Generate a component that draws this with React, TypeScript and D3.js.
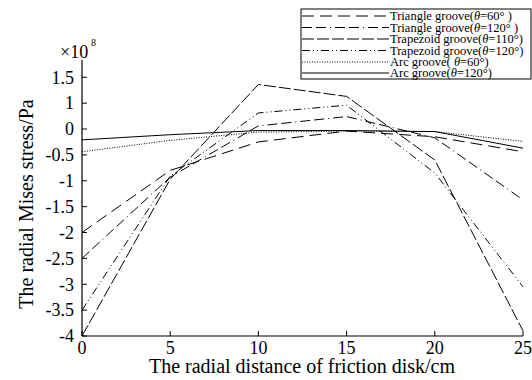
import React from 'react';
import * as d3 from 'd3';

// radial distance (cm)
const distance = [0, 5, 10, 15, 20, 25];

// stress values in axis position units (x1e8 Pa)
const triangle60 = [-2.0, -0.8, -0.25, -0.04, -0.15, -0.44];
const triangle120 = [-2.5, -0.93, 0.06, 0.24, -0.17, -1.37];
const trapezoid110 = [-4.0, -0.97, 0.86, 0.63, -0.6, -3.9];
const trapezoid120 = [-3.5, -0.91, 0.31, 0.46, -0.85, -3.05];
const arc60 = [-0.44, -0.22, -0.06, -0.04, -0.05, -0.24];
const arc120 = [-0.21, -0.11, -0.03, -0.03, -0.05, -0.37];

const xTicks = [0, 5, 10, 15, 20, 25];
const yTickValues = [1, 0.5, 0, -0.5, -1, -1.5, -2, -2.5, -3, -3.5, -4];
const yTickLabels = ['1.5', '1', '0', '-0.5', '-1', '-1.5', '-2', '-2.5', '-3', '-3.5', '-4'];

const seriesNames = [
  'Triangle groove(',
  'Triangle groove(',
  'Trapezoid groove(',
  'Trapezoid groove(',
  'Arc groove( ',
  'Arc groove(',
];
const seriesAngles = ['=60° )', '=120° )', '=110°)', '=120°)', '=60°)', '=120°)'];
const seriesValues = [triangle60, triangle120, trapezoid110, trapezoid120, arc60, arc120];
const seriesDash = ['12,6', '10,4,10,4,1,4', '12,3', '8,3,1,3,1,3', '1,1.5', null];

const W = 532;
const H = 380;
const font = 'Liberation Serif, Times New Roman, serif';

export default function App() {
  const x = d3.scaleLinear().domain([0, 25]).range([82, 523]);
  const y = d3.scaleLinear().domain([-4, 0]).range([336, 129]);
  const yTop = y.invert(60);

  const line = d3
    .line<number>()
    .x((_, i) => x(distance[i]))
    .y(d => y(d));

  const legendRows = [16, 27.5, 39, 50.5, 62, 73];

  return (
    <svg width={W} height={H} style={{ position: 'absolute', left: 0, top: 0, background: '#fff' }}>
      {/* axes */}
      <line x1={x(0)} x2={x(0)} y1={y(yTop)} y2={y(-4)} stroke="#000" strokeWidth={1.2} />
      <line x1={x(0)} x2={x(25)} y1={y(-4)} y2={y(-4)} stroke="#000" strokeWidth={1.2} />

      {yTickValues.map((t, i) => (
        <g key={`y${i}`} transform={`translate(0,${y(t)})`}>
          <line x1={x(0)} x2={x(0) + 5} stroke="#000" />
          <text x={74} dy="0.35em" textAnchor="end" fontSize={18} fontFamily={font}>
            {yTickLabels[i]}
          </text>
        </g>
      ))}

      {xTicks.map(t => (
        <g key={`x${t}`} transform={`translate(${x(t)},0)`}>
          <line y1={y(-4)} y2={y(-4) - 5} stroke="#000" />
          <text y={y(-4) + 18} textAnchor="middle" fontSize={18} fontFamily={font}>
            {t}
          </text>
        </g>
      ))}

      <text x={60} y={58} fontSize={18} fontFamily={font}>×10</text>
      <text x={91} y={46} fontSize={10} fontFamily={font}>8</text>

      <text x={302} y={373} textAnchor="middle" fontSize={20} fontFamily={font}>
        The radial distance of friction disk/cm
      </text>
      <text
        transform={`translate(33,${(y(yTop) + y(-4)) / 2 + 6}) rotate(-90)`}
        textAnchor="middle"
        fontSize={20}
        fontFamily={font}
      >
        The radial Mises stress/Pa
      </text>

      {/* series */}
      {seriesValues.map((vals, i) => (
        <path
          key={`s${i}`}
          d={line(vals) || ''}
          fill="none"
          stroke="#000"
          strokeWidth={1}
          strokeDasharray={seriesDash[i] || undefined}
        />
      ))}

      {/* legend */}
      <rect x={301} y={9} width={230} height={70} fill="#fff" stroke="#000" strokeWidth={1} />
      {seriesNames.map((name, i) => (
        <g key={`l${i}`}>
          <line
            x1={302}
            x2={389}
            y1={legendRows[i]}
            y2={legendRows[i]}
            stroke="#000"
            strokeWidth={1}
            strokeDasharray={seriesDash[i] || undefined}
          />
          <text x={390} y={legendRows[i]} dy="0.35em" fontSize={12.5} fontFamily={font}>
            {name}
            <tspan fontStyle="italic">θ</tspan>
            {seriesAngles[i]}
          </text>
        </g>
      ))}
    </svg>
  );
}
